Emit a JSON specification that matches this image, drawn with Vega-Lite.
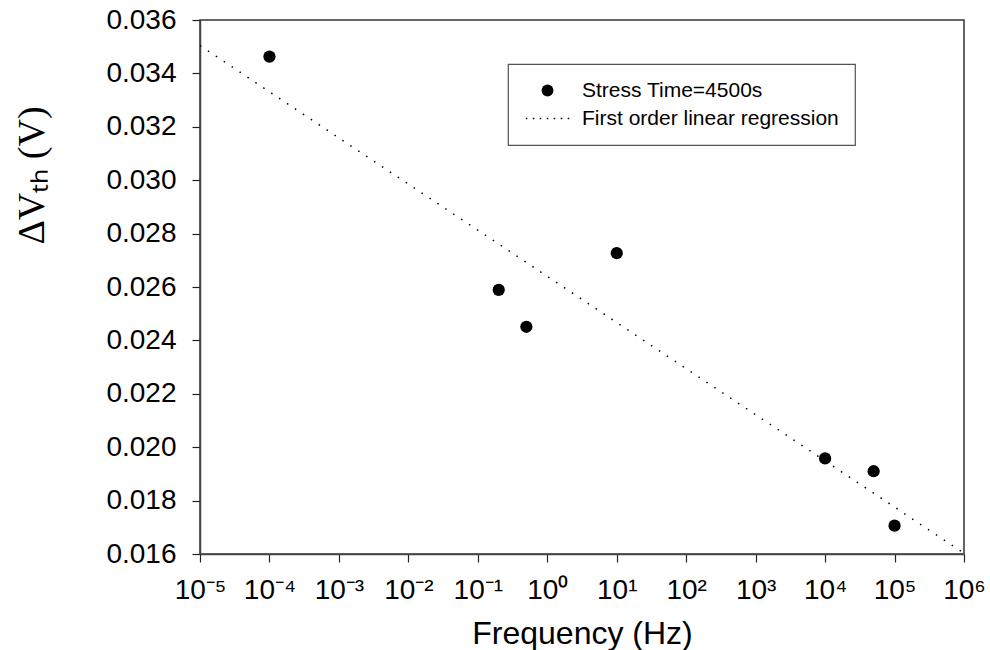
{
  "$schema": "https://vega.github.io/schema/vega-lite/v6.json",
  "width": 764,
  "height": 534,
  "autosize": {"type": "none"},
  "padding": {"left": 200, "top": 20, "right": 26, "bottom": 96},
  "background": "white",
  "config": {
    "view": {"stroke": "#333333", "strokeWidth": 1.5},
    "font": "Liberation Sans",
    "legend": {"strokeWidth": 1.2},
    "axis": {
      "grid": false,
      "domainColor": "#444444",
      "domainWidth": 1.5,
      "tickColor": "#222222",
      "tickWidth": 1.2,
      "tickSize": 8,
      "labelColor": "black",
      "labelFont": "Liberation Sans",
      "labelFontSize": 28,
      "titleColor": "black",
      "titleFontWeight": "normal"
    }
  },
  "datasets": {
    "points": [
      {"freq": 0.0001, "dvth": 0.03463, "series": "Stress Time=4500s"},
      {"freq": 0.2, "dvth": 0.02589, "series": "Stress Time=4500s"},
      {"freq": 0.5, "dvth": 0.02451, "series": "Stress Time=4500s"},
      {"freq": 10, "dvth": 0.02727, "series": "Stress Time=4500s"},
      {"freq": 10000, "dvth": 0.01958, "series": "Stress Time=4500s"},
      {"freq": 50000, "dvth": 0.0191, "series": "Stress Time=4500s"},
      {"freq": 100000, "dvth": 0.01706, "series": "Stress Time=4500s"}
    ],
    "fit": [
      {"freq": 0.00001, "dvth": 0.03504, "series": "First order linear regression"},
      {"freq": 1000000, "dvth": 0.01603, "series": "First order linear regression"}
    ]
  },
  "layer": [
    {
      "data": {"name": "fit"},
      "mark": {"type": "line", "color": "black", "strokeWidth": 1.5, "strokeDash": [1.5, 8], "clip": true},
      "encoding": {
        "x": {"field": "freq", "type": "quantitative"},
        "y": {"field": "dvth", "type": "quantitative"}
      }
    },
    {
      "data": {"name": "points"},
      "mark": {"type": "point", "filled": true, "color": "black", "size": 150, "opacity": 1},
      "encoding": {
        "x": {
          "field": "freq",
          "type": "quantitative",
          "scale": {"type": "log", "domain": [0.00001, 1000000], "nice": false},
          "axis": {
            "values": [0.00001, 0.0001, 0.001, 0.01, 0.1, 1, 10, 100, 1000, 10000, 100000, 1000000],
            "labelExpr": "'10' + ['⁻⁵','⁻⁴','⁻³','⁻²','⁻¹','⁰','¹','²','³','⁴','⁵','⁶'][round(log(datum.value)/LN10)+5]",
            "labelPadding": 14,
            "labelOverlap": false,
            "labelFlush": false,
            "title": "Frequency (Hz)",
            "titleFont": "Liberation Sans",
            "titleFontSize": 32,
            "titlePadding": 14
          }
        },
        "y": {
          "field": "dvth",
          "type": "quantitative",
          "scale": {"domain": [0.016, 0.036], "nice": false, "zero": false},
          "axis": {
            "values": [0.016, 0.018, 0.02, 0.022, 0.024, 0.026, 0.028, 0.03, 0.032, 0.034, 0.036],
            "format": ".3f",
            "labelPadding": 16,
            "labelOverlap": false,
            "title": "ΔVₜₕ (V)",
            "titleFont": "Liberation Serif",
            "titleFontSize": 38,
            "titleAngle": -90,
            "titleAlign": "center",
            "titleBaseline": "alphabetic",
            "titleX": -157,
            "titleY": 155
          }
        },
        "shape": {
          "field": "series",
          "type": "nominal",
          "scale": {
            "domain": ["Stress Time=4500s", "First order linear regression"],
            "range": ["circle", "M-3.67,-0.13h0.26v0.26h-0.26Z M-2.49,-0.13h0.26v0.26h-0.26Z M-1.31,-0.13h0.26v0.26h-0.26Z M-0.13,-0.13h0.26v0.26h-0.26Z M1.05,-0.13h0.26v0.26h-0.26Z M2.23,-0.13h0.26v0.26h-0.26Z M3.41,-0.13h0.26v0.26h-0.26Z"]
          },
          "legend": {
            "orient": "none",
            "legendX": 308,
            "legendY": 44,
            "title": null,
            "strokeColor": "#555555",
            "fillColor": "white",
            "padding": 16,
            "labelFont": "Liberation Sans",
            "labelFontSize": 21,
            "labelColor": "black",
            "labelLimit": 0,
            "labelOffset": 24,
            "symbolOffset": 13,
            "symbolSize": 140,
            "symbolFillColor": "black",
            "symbolOpacity": 1,
            "rowPadding": 6
          }
        }
      }
    }
  ]
}
